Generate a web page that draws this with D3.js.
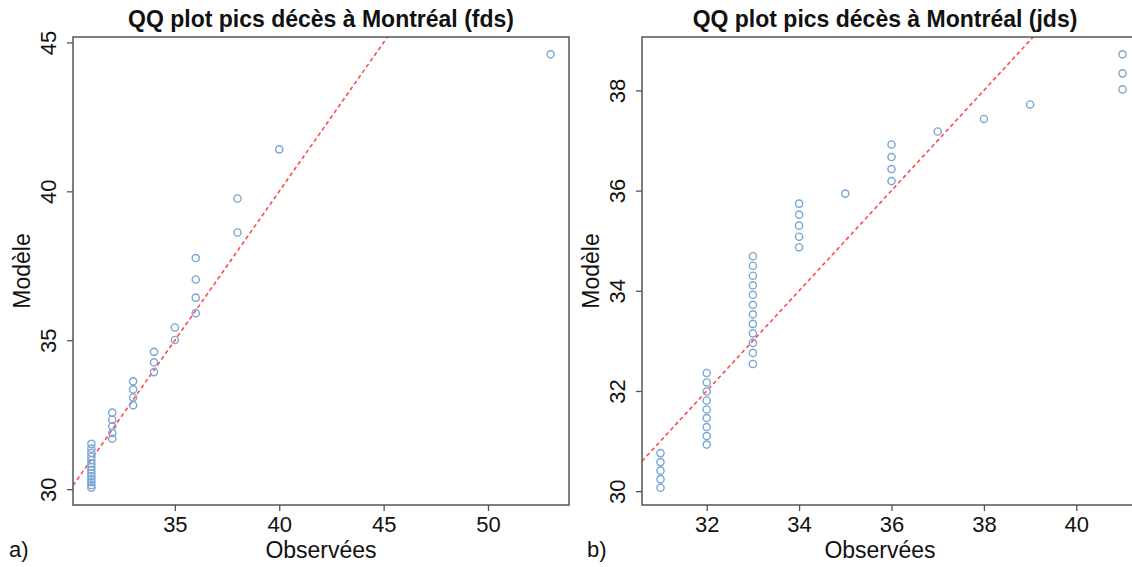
<!DOCTYPE html>
<html lang="en">
<head>
<meta charset="utf-8">
<title>QQ plot pics décès à Montréal</title>
<script src="https://d3js.org/d3.v7.min.js"></script>
<style>
  body { margin: 0; background: #fff; }
  svg text { font-family: "Liberation Sans", Arial, sans-serif; fill: #111; }
</style>
</head>
<body>
<div id="s"></div>
<script>
var WIDTH = 1132;
var HEIGHT = 567;

// panel a) (fds) : observed vs model quantiles
var obsA = [31,31,31,31,31,31,31,31,31,31,31,31,31,31,
            32,32,32,32,32,
            33,33,33,33,
            34,34,34,
            35,35,
            36,36,36,36,
            38,38,
            40,
            53];
var modA = [30.05,30.13,30.23,30.33,30.43,30.53,30.64,30.75,30.86,30.97,31.09,31.22,31.36,31.52,
            31.69,31.89,32.11,32.33,32.57,
            32.82,33.08,33.35,33.62,
            33.93,34.26,34.61,
            35.01,35.43,
            35.91,36.43,37.04,37.76,
            38.62,39.76,
            41.41,
            44.6];
var xTicksA = [35, 40, 45, 50];
var yTicksA = [30, 35, 40, 45];

// panel b) (jds)
var obsB = [31,31,31,31,31,
            32,32,32,32,32,32,32,32,32,
            33,33,33,33,33,33,33,33,33,33,33,33,
            34,34,34,34,34,
            35,
            36,36,36,36,
            37,
            38,
            39,
            41,41,41];
var modB = [30.07,30.24,30.41,30.58,30.76,
            30.93,31.10,31.28,31.46,31.63,31.81,31.99,32.17,32.36,
            32.54,32.76,32.96,33.15,33.34,33.53,33.72,33.92,34.11,34.30,34.50,34.69,
            34.87,35.08,35.30,35.52,35.74,
            35.94,
            36.19,36.43,36.67,36.92,
            37.18,
            37.43,
            37.72,
            38.02,38.34,38.72];
var xTicksB = [32, 34, 36, 38, 40];
var yTicksB = [30, 32, 34, 36, 38];

const svg = d3.select("#s")
    .append("svg")
    .attr("width", WIDTH)
    .attr("height", HEIGHT);

// R-style 4% padding
function pad(ext) {
    var d = (ext[1] - ext[0]) * 0.04;
    return [ext[0] - d, ext[1] + d];
}

function panel(p) {
    var x = d3.scaleLinear().domain(pad(d3.extent(p.obs))).range([p.left, p.right]);
    var y = d3.scaleLinear().domain(pad(d3.extent(p.mod))).range([p.bottom, p.top]);
    var g = svg.append("g");

    g.append("clipPath").attr("id", p.id)
        .append("rect")
        .attr("x", p.left).attr("y", p.top)
        .attr("width", p.right - p.left).attr("height", p.bottom - p.top);

    var inner = g.append("g").attr("clip-path", "url(#" + p.id + ")");

    // y = x reference line
    var xd = x.domain();
    inner.append("line")
        .attr("x1", x(xd[0])).attr("y1", y(xd[0]))
        .attr("x2", x(xd[1])).attr("y2", y(xd[1]))
        .attr("stroke", "#ff4a4a")
        .attr("stroke-width", 1.6)
        .attr("stroke-dasharray", "4,3");

    inner.selectAll("circle")
        .data(p.obs.map(function (o, i) { return [o, p.mod[i]]; }))
        .enter().append("circle")
        .attr("cx", function (d) { return x(d[0]); })
        .attr("cy", function (d) { return y(d[1]); })
        .attr("r", 3.6)
        .attr("fill", "none")
        .attr("stroke", "#7aa6d2")
        .attr("stroke-width", 1.4);

    // box
    g.append("rect")
        .attr("x", p.left).attr("y", p.top)
        .attr("width", p.right - p.left).attr("height", p.bottom - p.top)
        .attr("fill", "none")
        .attr("stroke", "#555")
        .attr("stroke-width", 1.5);

    // x axis
    var xa = g.append("g").attr("transform", "translate(0," + p.bottom + ")")
        .call(d3.axisBottom(x).tickValues(p.xTicks).tickSize(6).tickSizeOuter(0).tickPadding(5));
    xa.select(".domain").remove();
    xa.selectAll("line").attr("stroke", "#555").attr("stroke-width", 1.3);
    xa.selectAll("text").style("font-size", "22px").attr("fill", "#111");

    // y axis
    var ya = g.append("g").attr("transform", "translate(" + p.left + ",0)")
        .call(d3.axisLeft(y).tickValues(p.yTicks).tickSize(6).tickSizeOuter(0));
    ya.select(".domain").remove();
    ya.selectAll("line").attr("stroke", "#555").attr("stroke-width", 1.3);
    ya.selectAll("text")
        .style("font-size", "22px").attr("fill", "#111")
        .attr("x", null)
        .attr("text-anchor", "middle")
        .attr("transform", "translate(" + (-17) + ",0) rotate(-90)")
        .attr("dy", "0em");

    // title
    g.append("text")
        .attr("x", p.titleX).attr("y", 27)
        .attr("text-anchor", "middle")
        .style("font-size", "23px").style("font-weight", "bold")
        .text(p.title);

    g.append("text")
        .attr("x", p.labX).attr("y", 558)
        .attr("text-anchor", "middle")
        .style("font-size", "23px")
        .text("Observées");

    g.append("text")
        .attr("transform", "translate(" + (p.left - 43) + "," + ((p.top + p.bottom) / 2) + ") rotate(-90)")
        .attr("text-anchor", "middle")
        .style("font-size", "23px")
        .text("Modèle");

    g.append("text")
        .attr("x", p.tagX).attr("y", 557)
        .style("font-size", "22px")
        .text(p.tag);
}

panel({ id: "ca", obs: obsA, mod: modA, xTicks: xTicksA, yTicks: yTicksA,
        left: 73, right: 569, top: 37, bottom: 505,
        title: "QQ plot pics décès à Montréal (fds)", titleX: 321, labX: 321, tag: "a)", tagX: 9 });

panel({ id: "cb", obs: obsB, mod: modB, xTicks: xTicksB, yTicks: yTicksB,
        left: 642, right: 1141, top: 37, bottom: 505,
        title: "QQ plot pics décès à Montréal (jds)", titleX: 885, labX: 880, tag: "b)", tagX: 587 });
</script>
</body>
</html>
